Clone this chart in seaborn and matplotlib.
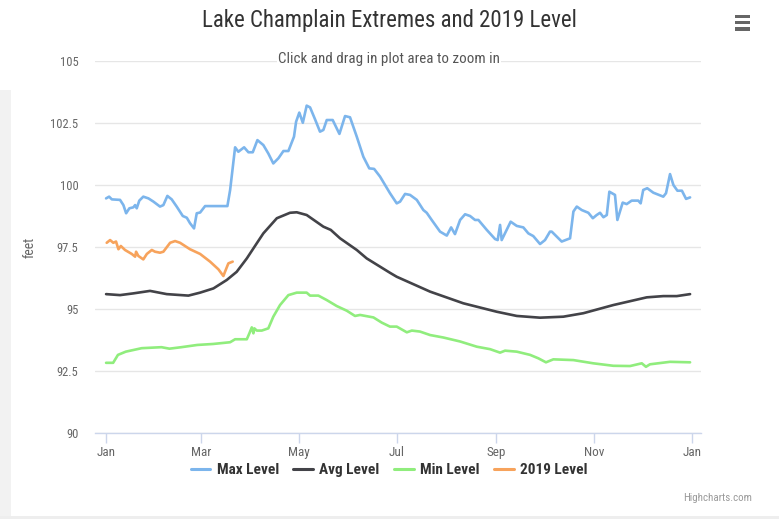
import numpy as np
import pandas as pd
import seaborn as sns
import matplotlib
matplotlib.use("Agg")
import matplotlib.pyplot as plt
from matplotlib import font_manager as fm
from matplotlib.patches import Rectangle

# ---------------- data (day of year, feet) ----------------
max_days = [0, 1.9, 3.6, 8.7, 10.8, 12.5, 14.5, 17, 18.1, 19.1, 20.7, 23.2, 26.4, 29.5, 33.6, 35.7,
            38.2, 40.9, 44, 47.8, 50.3, 52.3, 54.8, 56.5, 58.6, 61.7, 64.8, 75.6, 77.3, 80.4, 82.4,
            86, 88.7, 91.4, 94.3, 98, 101.1, 104.2, 107.4, 110.5, 113.6, 117.1, 118.4, 120.4, 122.6,
            125, 127.1, 130.2, 133.3, 135.4, 137.5, 141.2, 145.4, 148.9, 152, 156.2, 160.3, 164,
            167, 170.7, 176.9, 181.1, 183.2, 186.3, 189.4, 193.6, 197.7, 199.8, 202.9, 208.1,
            212.3, 215, 217.4, 220.6, 223.7, 226.8, 229.9, 232, 237.2, 242.4, 244, 245.5, 246.5,
            249.6, 252.1, 255.9, 260, 263.1, 266.2, 270.4, 273.5, 276.6, 277.7, 280.8, 283.9,
            289.1, 291.2, 293.3, 296.4, 300.5, 303.3, 305.7, 307.8, 309.9, 312, 313.6, 317.1,
            318.6, 321.9, 324.4, 327.5, 331.6, 333.1, 334.7, 337.2, 341, 347.2, 348.9, 351.4,
            353.5, 356, 358.8, 361.4, 363.9]
max_vals = [99.46, 99.53, 99.42, 99.4, 99.19, 98.86, 99.06, 99.1, 99.19, 99.06, 99.37, 99.53, 99.46,
            99.33, 99.13, 99.19, 99.56, 99.42, 99.13, 98.75, 98.68, 98.46, 98.25, 98.86, 98.89,
            99.15, 99.15, 99.15, 99.8, 101.52, 101.34, 101.52, 101.32, 101.32, 101.81, 101.61,
            101.27, 100.87, 101.08, 101.37, 101.37, 101.95, 102.55, 102.92, 102.51, 103.2, 103.13,
            102.65, 102.15, 102.22, 102.62, 102.62, 102.06, 102.78, 102.73, 101.95, 101.14, 100.67,
            100.65, 100.34, 99.67, 99.26, 99.33, 99.64, 99.6, 99.4, 98.99, 98.88, 98.59, 98.12,
            97.96, 98.29, 98.02, 98.59, 98.82, 98.75, 98.59, 98.59, 98.19, 97.82, 97.78, 98.39,
            97.78, 98.19, 98.52, 98.35, 98.29, 98.05, 97.94, 97.62, 97.78, 98.12, 98.12, 97.92,
            97.72, 97.85, 98.93, 99.13, 98.99, 98.88, 98.66, 98.79, 98.88, 98.7, 98.79, 99.73,
            99.6, 98.59, 99.29, 99.23, 99.37, 99.37, 99.26, 99.8, 99.87, 99.69, 99.53, 99.67,
            100.44, 100.0, 99.77, 99.77, 99.44, 99.5]

avg_days = [0, 8.7, 17, 27.4, 37.8, 51.3, 58.6, 66.9, 75.2, 81.4, 87.7, 93.9, 98, 106.4, 114.6,
            118.8, 125, 135.4, 140, 145.8, 156.2, 162.4, 176.9, 181.1, 201.9, 222.6, 243.4, 255.9,
            270.4, 284.9, 297.4, 316.1, 336.9, 347.2, 355.6, 363.9]
avg_vals = [95.6, 95.56, 95.63, 95.73, 95.6, 95.54, 95.66, 95.83, 96.17, 96.5, 97.04, 97.65, 98.05,
            98.66, 98.88, 98.9, 98.79, 98.32, 98.19, 97.85, 97.38, 97.04, 96.46, 96.3, 95.7, 95.23,
            94.89, 94.72, 94.65, 94.69, 94.83, 95.16, 95.47, 95.52, 95.52, 95.6]

min_days = [0, 4.4, 7.4, 12.3, 22.2, 34.5, 39.5, 46.9, 56.8, 66.7, 77.3, 80.4, 87.7, 89.3, 90.8,
            91.8, 92.4, 93.9, 97, 101.1, 104.2, 108.4, 113.6, 118.8, 125, 127.1, 132.3, 137.5,
            143.7, 150, 155.1, 158.3, 166.6, 171.8, 176.9, 181.1, 187.4, 190.5, 195.6, 201.9,
            210.2, 220.6, 231, 239.3, 245.5, 248.6, 255.9, 264.2, 269.4, 274.1, 278.7, 291.2,
            303.6, 316.1, 326.5, 333.8, 336.4, 338.9, 351.4, 363.9]
min_vals = [92.83, 92.83, 93.15, 93.28, 93.42, 93.46, 93.4, 93.46, 93.55, 93.59, 93.66, 93.78, 93.78,
            94.02, 94.26, 94.02, 94.22, 94.13, 94.13, 94.22, 94.69, 95.16, 95.56, 95.66, 95.66,
            95.54, 95.54, 95.36, 95.12, 94.93, 94.72, 94.76, 94.66, 94.45, 94.29, 94.29, 94.06,
            94.13, 94.09, 93.95, 93.85, 93.69, 93.48, 93.38, 93.24, 93.32, 93.28, 93.15, 93.01,
            92.85, 92.97, 92.94, 92.81, 92.71, 92.7, 92.81, 92.67, 92.77, 92.87, 92.85]

y2019_days = [0.4, 2.5, 4.5, 6.2, 7.7, 9.2, 11.8, 16, 18.1, 18.7, 20.1, 23.2, 25.4, 28.5, 30.5,
              33.6, 35.7, 39.9, 43, 46.1, 52.3, 58.6, 64.8, 70, 73.1, 74.1, 76.2, 78.9]
y2019_vals = [97.67, 97.78, 97.67, 97.72, 97.41, 97.54, 97.38, 97.22, 97.11, 97.31, 97.14, 97.0,
              97.22, 97.38, 97.31, 97.27, 97.31, 97.67, 97.74, 97.67, 97.41, 97.22, 96.91, 96.6,
              96.33, 96.5, 96.84, 96.91]

series_names = ["Max Level", "Avg Level", "Min Level", "2019 Level"]
series_colors = ["#7cb5ec", "#434348", "#90ed7d", "#f7a35c"]

month_days = [0, 59, 120, 181, 243, 304, 365]
month_labels = ["Jan", "Mar", "May", "Jul", "Sep", "Nov", "Jan"]
y_ticks = [90, 92.5, 95, 97.5, 100, 102.5, 105]
y_labels = ["90", "92.5", "95", "97.5", "100", "102.5", "105"]

# ---------------- style ----------------
sns.set_theme(style="white")
names = {f.name for f in fm.fontManager.ttflist}
FONT = next((c for c in ["Roboto Condensed", "Liberation Sans Narrow", "Open Sans Condensed",
                         "Noto Sans Condensed", "Arial Narrow", "DejaVu Sans Condensed",
                         "Roboto", "DejaVu Sans"] if c in names), "DejaVu Sans")
plt.rcParams["font.family"] = [FONT, "DejaVu Sans"]

frames = []
for name, d, v in zip(series_names, [max_days, avg_days, min_days, y2019_days],
                      [max_vals, avg_vals, min_vals, y2019_vals]):
    frames.append(pd.DataFrame({"day": d, "feet": v, "series": name}))
df = pd.concat(frames, ignore_index=True)

W, H = 779, 519
fig = plt.figure(figsize=(W / 100, H / 100), dpi=100)
fig.patch.set_facecolor("white")
ax = fig.add_axes([95 / W, 1 - 433 / H, 606 / W, 372 / H])

sns.lineplot(data=df, x="day", y="feet", hue="series", hue_order=series_names,
             palette=series_colors, linewidth=1.9, ax=ax, estimator=None, sort=False)

ax.set_xlim(-6.9, 370.7)
ax.set_ylim(90, 105)
ax.set_yticks(y_ticks)
ax.set_yticklabels(y_labels)
ax.set_xticks(month_days)
ax.set_xticklabels(month_labels)
ax.yaxis.grid(True, color="#e6e6e6", linewidth=1)
ax.xaxis.grid(False)
for s in ["top", "right", "left"]:
    ax.spines[s].set_visible(False)
ax.spines["bottom"].set_color("#ccd6eb")
ax.spines["bottom"].set_linewidth(1)
ax.tick_params(axis="x", length=7.2, width=1, color="#ccd6eb", pad=2.5,
               labelcolor="#666666", labelsize=9.5, bottom=True)
ax.tick_params(axis="y", length=0, pad=12, labelcolor="#666666", labelsize=9)
ax.set_xlabel("")
ax.set_ylabel("")
fig.text(30 / W, 1 - 247 / H, "feet", rotation=90, ha="center", va="center",
         fontsize=10, color="#666666")

handles, labels = ax.get_legend_handles_labels()
ax.get_legend().remove()
leg = fig.legend(handles, labels, loc="center", bbox_to_anchor=(389 / W, 1 - 470 / H), ncol=4,
                 frameon=False, handlelength=1.3, handletextpad=0.4, columnspacing=0.95,
                 prop={"weight": "bold", "size": 11})
for t in leg.get_texts():
    t.set_color("#333333")
for h in leg.legend_handles:
    h.set_linewidth(2.2)

fig.text(389 / W, 1 - 20 / H, "Lake Champlain Extremes and 2019 Level", ha="center", va="center",
         fontsize=16.5, color="#333333")
fig.text(389 / W, 1 - 59 / H, "Click and drag in plot area to zoom in", ha="center", va="center",
         fontsize=10.8, color="#555555",
         bbox=dict(facecolor="white", edgecolor="none", pad=0.5))
fig.text(718 / W, 1 - 498 / H, "Highcharts.com", ha="center", va="center", fontsize=7.8,
         color="#999999")

# menu icon
for yb in [16.5, 22.5, 29]:
    fig.patches.append(Rectangle((735 / W, 1 - (yb + 1.5) / H), 15 / W, 3 / H,
                                 transform=fig.transFigure, facecolor="#666666",
                                 edgecolor="none"))
# frame shadows
fig.patches.append(Rectangle((0, 0), 11 / W, 1 - 90 / H, transform=fig.transFigure,
                             facecolor="#f2f2f2", edgecolor="none", zorder=-1))
fig.patches.append(Rectangle((0, 0), 1, 3 / H, transform=fig.transFigure,
                             facecolor="#eeeeee", edgecolor="none", zorder=-1))

fig.savefig("out.png", dpi=100)
